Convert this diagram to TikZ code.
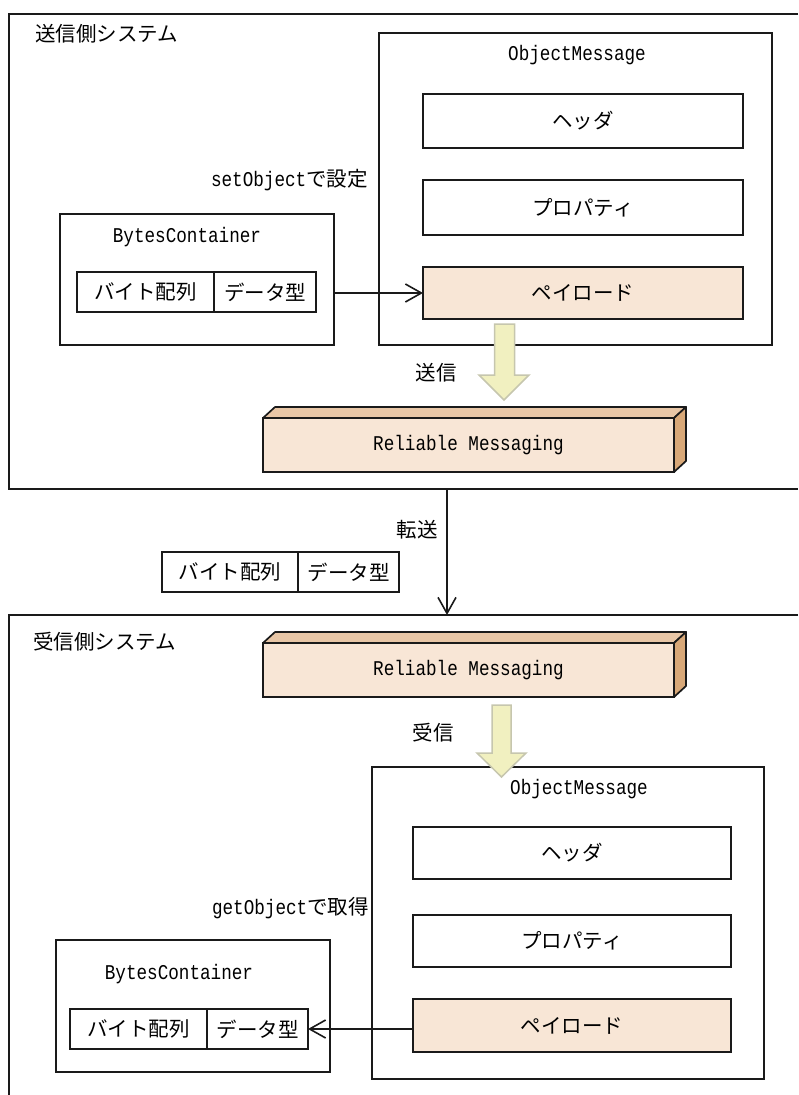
\documentclass[tikz,border=0pt]{standalone}
\usepackage{fontspec}
\setmainfont{Noto Sans CJK JP}
\newfontfamily\monofont[FakeStretch=0.84]{Liberation Mono}
\usetikzlibrary{arrows.meta}
\definecolor{peach}{HTML}{F8E6D6}
\definecolor{rmtop}{HTML}{E8C6A6}
\definecolor{rmside}{HTML}{D8A878}
\definecolor{yfill}{HTML}{F1F0C0}
\definecolor{ydraw}{HTML}{C6C6AE}
\definecolor{ink}{HTML}{1A1A1A}
\newcommand\jpf{\fontsize{20.5}{24}\selectfont}
\newcommand\lmf{\fontsize{21}{24}\selectfont\monofont}
\begin{document}
\begin{tikzpicture}[x=1pt,y=-1pt,
  lw/.style={line width=1.7pt, draw=ink},
  bx/.style={lw, rectangle, inner sep=0pt, outer sep=0pt, anchor=north west, font=\jpf},
  pay/.style={bx, fill=peach},
  lbl/.style={inner sep=0pt, font=\jpf},
  mlbl/.style={inner sep=0pt, font=\lmf},
  conn/.style={lw, -{Straight Barb[length=16pt,width=18pt,line width=1.6pt]}},
  bigarrow/.style={fill=yfill, draw=ydraw, line width=1.5pt, line join=miter}
]
\useasboundingbox (0,0) rectangle (798,1095);

% system frames
\draw[lw] (798,14) -- (9,14) -- (9,489) -- (798,489);
\draw[lw] (798,615) -- (9,615) -- (9,1095);
\node[lbl, anchor=west] (sendsys) at (35,34) {送信側システム};
\node[lbl, anchor=west] (recvsys) at (33,642) {受信側システム};

% ---------- sender ----------
\node[bx, minimum width=393pt, minimum height=312pt] (om1) at (379,33) {};
\node[mlbl] (om1t) at (577,55) {ObjectMessage};
\node[bx, minimum width=320pt, minimum height=54pt] (hd1) at (423,94) {ヘッダ};
\node[bx, minimum width=320pt, minimum height=55pt] (pr1) at (423,180) {プロパティ};
\node[pay, minimum width=320pt, minimum height=52pt] (pl1) at (423,267) {ペイロード};

\node[lbl, anchor=east] (setl) at (368,180) {{\lmf setObject}で設定};

\node[bx, minimum width=274pt, minimum height=131pt] (bc1) at (60,214) {};
\node[mlbl] (bc1t) at (187,237) {BytesContainer};
\node[bx, minimum width=137pt, minimum height=40pt] (ba1) at (77,272) {バイト配列};
\node[bx, minimum width=102pt, minimum height=40pt] (dt1) at (214,272) {データ型};

\draw[conn] (bc1.east |- pl1.west) -- (pl1.west);

% reliable messaging 1
\node[pay, minimum width=411pt, minimum height=54pt, font=\lmf] (rm1) at (263,418) {Reliable Messaging};
\draw[lw, fill=rmtop, line join=round] (rm1.north west) -- ++(12,-11) -- ++(411,0) -- (rm1.north east) -- cycle;
\draw[lw, fill=rmside, line join=round] (rm1.north east) -- ++(12,-11) -- ++(0,54) -- (rm1.south east) -- cycle;

\node[lbl] (sendl) at (436,373) {送信};

% ---------- transfer ----------
\coordinate (t1) at (447,489);
\coordinate (t2) at (447,615);
\draw[conn] (t1) -- (t2);
\node[lbl] (trl) at (417,530) {転送};
\node[bx, minimum width=136pt, minimum height=40pt] (ba3) at (162,552) {バイト配列};
\node[bx, minimum width=101pt, minimum height=40pt] (dt3) at (298,552) {データ型};

% ---------- receiver ----------
\node[pay, minimum width=411pt, minimum height=54pt, font=\lmf] (rm2) at (263,643) {Reliable Messaging};
\draw[lw, fill=rmtop, line join=round] (rm2.north west) -- ++(12,-11) -- ++(411,0) -- (rm2.north east) -- cycle;
\draw[lw, fill=rmside, line join=round] (rm2.north east) -- ++(12,-11) -- ++(0,54) -- (rm2.south east) -- cycle;

\node[lbl] (recvl) at (433,733) {受信};

\node[bx, minimum width=392pt, minimum height=312pt] (om2) at (372,767) {};
\node[mlbl] (om2t) at (579,789) {ObjectMessage};
\node[bx, minimum width=318pt, minimum height=52pt] (hd2) at (413,827) {ヘッダ};
\node[bx, minimum width=318pt, minimum height=52pt] (pr2) at (413,915) {プロパティ};
\node[pay, minimum width=318pt, minimum height=53pt] (pl2) at (413,999) {ペイロード};

\node[lbl, anchor=east] (getl) at (369,908) {{\lmf getObject}で取得};

\node[bx, minimum width=274pt, minimum height=132pt] (bc2) at (56,940) {};
\node[mlbl] (bc2t) at (179,974) {BytesContainer};
\node[bx, minimum width=137pt, minimum height=40pt] (ba2) at (70,1009) {バイト配列};
\node[bx, minimum width=101pt, minimum height=40pt] (dt2) at (207,1009) {データ型};

\draw[conn] (pl2.west |- dt2.east) -- (dt2.east);

% ---------- big arrows ----------
\draw[bigarrow] (494.5,324) -- (514.5,324) -- (514.5,375) -- (529,375) -- (504,400) -- (479,375) -- (494.5,375) -- cycle;
\draw[bigarrow] (492,705) -- (511,705) -- (511,753) -- (526,753) -- (501.5,777) -- (477,753) -- (492,753) -- cycle;
\end{tikzpicture}
\end{document}
